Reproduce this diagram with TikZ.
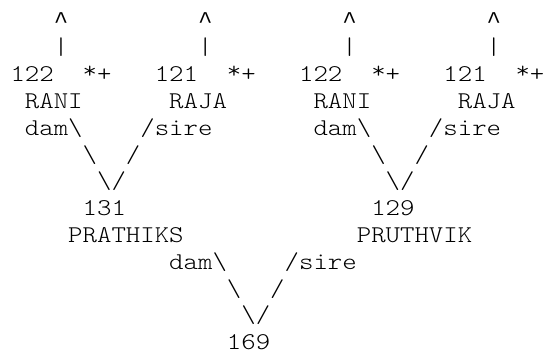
\documentclass[tikz,border=0pt]{standalone}
\usepackage{fontspec}
\usepackage{xcolor}
\usepackage{tikz}
\newfontfamily\asciifont{Latin Modern Mono Light}[FakeStretch=1.1429]
\newfontfamily\caretfont{Liberation Mono}
\newcommand\starplus{\raisebox{0.13em}{*}+}
\tikzset{
  chr/.style={anchor=base west,inner sep=0pt,outer sep=0pt,text=black,
    font=\asciifont\fontsize{24.05pt}{26.8pt}\selectfont},
  caret/.style={chr,font=\caretfont\fontsize{24.05pt}{26.8pt}\selectfont},
}

\begin{document}
\begin{tikzpicture}[x=14.43pt,y=-26.8pt]
  \fill[white] (-10.5pt,28.1pt) rectangle (539.5pt,-327.9pt);
  \useasboundingbox (-10.5pt,28.1pt) rectangle (539.5pt,-327.9pt);

  % lines going further up
  \node[caret] (tipA) at (3,0)  {\textasciicircum};
  \node[caret] (tipB) at (13,0) {\textasciicircum};
  \node[caret] (tipC) at (23,0) {\textasciicircum};
  \node[caret] (tipD) at (33,0) {\textasciicircum};
  \node[chr] (barA) at (3,1)  {|};
  \node[chr] (barB) at (13,1) {|};
  \node[chr] (barC) at (23,1) {|};
  \node[chr] (barD) at (33,1) {|};

  % grandparents
  \node[chr] (numA)  at (0,2)  {122};
  \node[chr] (starA) at (5,2)  {\starplus};
  \node[chr] (numB)  at (10,2) {121};
  \node[chr] (starB) at (15,2) {\starplus};
  \node[chr] (numC)  at (20,2) {122};
  \node[chr] (starC) at (25,2) {\starplus};
  \node[chr] (numD)  at (30,2) {121};
  \node[chr] (starD) at (35,2) {\starplus};
  \node[chr] (raniA) at (1,3)  {RANI};
  \node[chr] (rajaA) at (11,3) {RAJA};
  \node[chr] (raniB) at (21,3) {RANI};
  \node[chr] (rajaB) at (31,3) {RAJA};
  \node[chr] (damA)  at (1,4)  {dam\textbackslash};
  \node[chr] (sireA) at (9,4)  {/sire};
  \node[chr] (damB)  at (21,4) {dam\textbackslash};
  \node[chr] (sireB) at (29,4) {/sire};
  \node[chr] (bsA) at (5,5)  {\textbackslash};
  \node[chr] (fsA) at (8,5)  {/};
  \node[chr] (bsB) at (25,5) {\textbackslash};
  \node[chr] (fsB) at (28,5) {/};
  \node[chr] (vA) at (6,6)  {\textbackslash/};
  \node[chr] (vB) at (26,6) {\textbackslash/};

  % parents
  \node[chr] (n131) at (5,7)  {131};
  \node[chr] (n129) at (25,7) {129};
  \node[chr] (prathiks) at (4,8)  {PRATHIKS};
  \node[chr] (pruthvik) at (24,8) {PRUTHVIK};
  \node[chr] (damC)  at (11,9) {dam\textbackslash};
  \node[chr] (sireC) at (19,9) {/sire};
  \node[chr] (bsC) at (15,10) {\textbackslash};
  \node[chr] (fsC) at (18,10) {/};
  \node[chr] (vC) at (16,11) {\textbackslash/};

  % offspring
  \node[chr] (n169) at (15,12) {169};
\end{tikzpicture}
\end{document}
